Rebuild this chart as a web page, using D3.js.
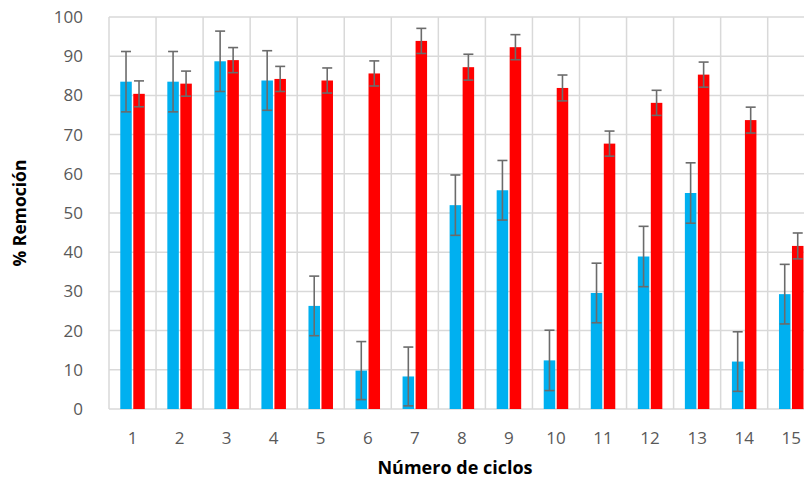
<!DOCTYPE html>
<html>
<head>
<meta charset="utf-8">
<script src="https://cdn.jsdelivr.net/npm/d3@7"></script>
<style>
  html, body { margin: 0; padding: 0; background: #fff; overflow: hidden; }
  svg { display: block; }
  text { font-family: "Open Sans", Lato, sans-serif; }
</style>
</head>
<body>
<svg id="chart" width="804" height="478"></svg>
<script>
// Removal percentage per cycle for two series, with standard deviations
const cycles = ["1","2","3","4","5","6","7","8","9","10","11","12","13","14","15"];
const seriesKeys = ["A", "B"];
const seriesA = [83.5, 83.5, 88.7, 83.8, 26.3, 9.8, 8.3, 52.0, 55.8, 12.4, 29.6, 38.9, 55.1, 12.1, 29.3];
const errorA  = [7.7, 7.7, 7.7, 7.6, 7.6, 7.4, 7.5, 7.7, 7.6, 7.7, 7.6, 7.7, 7.7, 7.6, 7.6];
const seriesB = [80.4, 83.0, 89.0, 84.2, 83.8, 85.6, 93.9, 87.2, 92.3, 81.9, 67.7, 78.1, 85.3, 73.7, 41.6];
const errorB  = [3.3, 3.2, 3.2, 3.2, 3.2, 3.2, 3.2, 3.3, 3.2, 3.3, 3.2, 3.2, 3.2, 3.3, 3.3];
const yTicks = [0, 10, 20, 30, 40, 50, 60, 70, 80, 90, 100];
const colors = { A: "#00B0F0", B: "#FF0000" };

const svg = d3.select("#chart");
const plot = { left: 109, top: 17, bottom: 409, step: 47.05 };
plot.right = plot.left + plot.step * cycles.length;

const x = d3.scaleBand().domain(cycles).range([plot.left, plot.right]).padding(0);
const xs = d3.scaleBand().domain(seriesKeys).range([0, x.bandwidth()])
  .paddingInner(0.115).paddingOuter(0.867);
const y = d3.scaleLinear().domain([0, 100]).range([plot.bottom, plot.top]);

// Grid: horizontal lines at each tick, vertical lines between categories
const grid = svg.append("g").attr("stroke", "#d9d9d9").attr("stroke-width", 1.5);
grid.selectAll("line.h").data(yTicks).join("line")
  .attr("x1", plot.left).attr("x2", plot.right)
  .attr("y1", d => y(d)).attr("y2", d => y(d));
grid.selectAll("line.v").data(d3.range(cycles.length + 1)).join("line")
  .attr("x1", i => plot.left + i * x.step()).attr("x2", i => plot.left + i * x.step())
  .attr("y1", plot.top).attr("y2", plot.bottom);

// Y axis labels
const yAxis = d3.axisLeft(y).tickValues(yTicks).tickSize(0).tickPadding(26);
svg.append("g").attr("transform", `translate(${plot.left},0)`).call(yAxis)
  .call(g => g.select(".domain").remove())
  .call(g => g.selectAll("text").attr("fill", "#595959")
    .style("font-size", "17px").style("font-family", "'Open Sans', sans-serif"));

// X axis labels
const xAxis = d3.axisBottom(x).tickSize(0).tickPadding(23);
svg.append("g").attr("transform", `translate(0,${plot.bottom})`).call(xAxis)
  .call(g => g.select(".domain").remove())
  .call(g => g.selectAll("text").attr("fill", "#595959")
    .style("font-size", "17px").style("font-family", "'Open Sans', sans-serif"));

// Bars and error bars
const rows = cycles.map((c, i) => ({
  cycle: c,
  items: [
    { key: "A", value: seriesA[i], err: errorA[i] },
    { key: "B", value: seriesB[i], err: errorB[i] }
  ]
}));

const groups = svg.append("g").selectAll("g").data(rows).join("g")
  .attr("transform", d => `translate(${x(d.cycle)},0)`);

groups.selectAll("rect").data(d => d.items).join("rect")
  .attr("x", d => xs(d.key)).attr("width", xs.bandwidth())
  .attr("y", d => y(d.value)).attr("height", d => y(0) - y(d.value))
  .attr("fill", d => colors[d.key]);

const eb = groups.selectAll("g.err").data(d => d.items).join("g")
  .attr("class", "err")
  .attr("stroke", "#6b6b6b").attr("stroke-width", 1.6);
const cx = d => xs(d.key) + xs.bandwidth() / 2;
eb.append("line")
  .attr("x1", cx).attr("x2", cx)
  .attr("y1", d => y(d.value + d.err)).attr("y2", d => y(d.value - d.err));
eb.append("line")
  .attr("x1", d => cx(d) - 5).attr("x2", d => cx(d) + 5)
  .attr("y1", d => y(d.value + d.err)).attr("y2", d => y(d.value + d.err));
eb.append("line")
  .attr("x1", d => cx(d) - 5).attr("x2", d => cx(d) + 5)
  .attr("y1", d => y(d.value - d.err)).attr("y2", d => y(d.value - d.err));

// Axis titles
svg.append("text")
  .attr("transform", `translate(26,${(plot.top + plot.bottom) / 2}) rotate(-90)`)
  .attr("text-anchor", "middle")
  .attr("fill", "#000").attr("font-weight", "bold").style("font-size", "17.5px")
  .text("% Remoción");

svg.append("text")
  .attr("x", 455).attr("y", 474)
  .attr("text-anchor", "middle")
  .attr("fill", "#000").attr("font-weight", "bold").style("font-size", "18px")
  .text("Número de ciclos");
</script>
</body>
</html>
